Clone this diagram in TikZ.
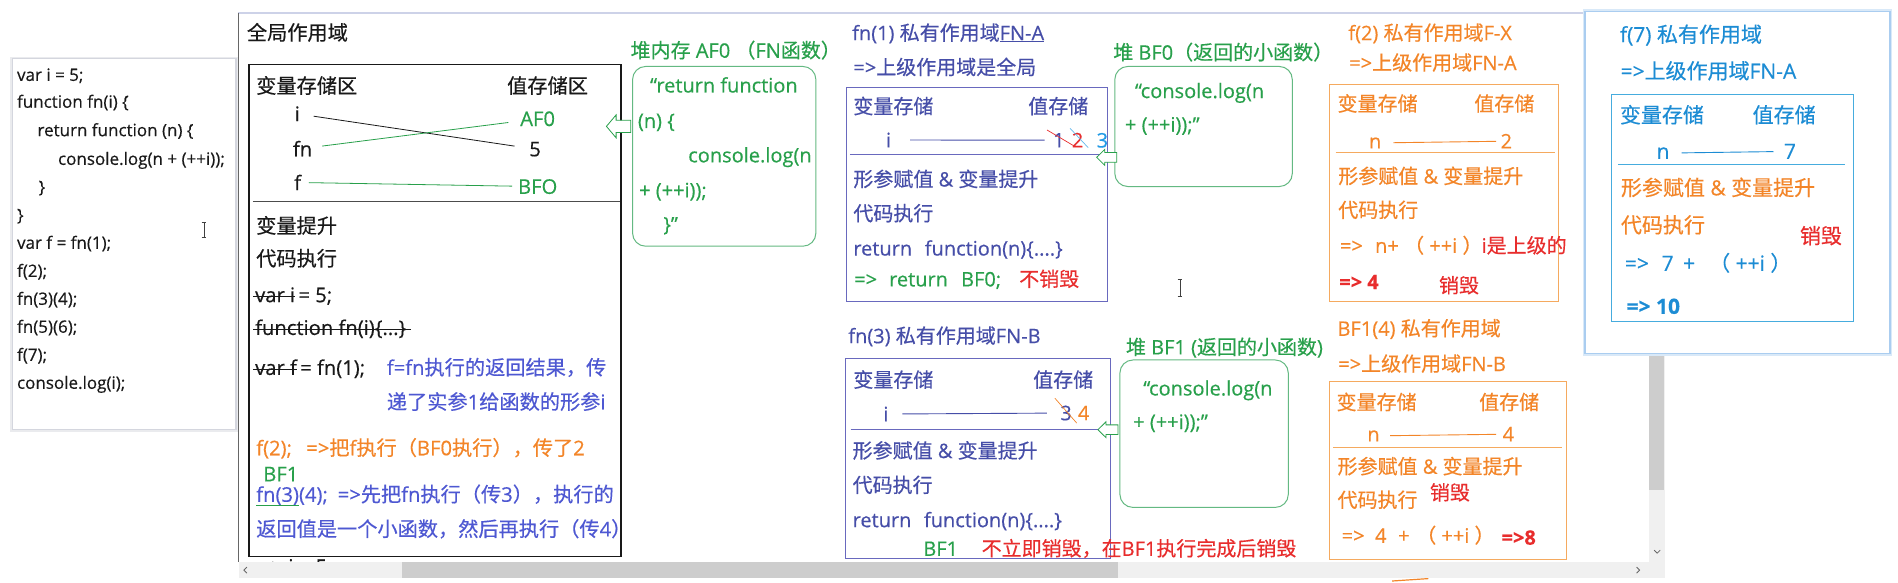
\documentclass[tikz,border=0pt]{standalone}
\usepackage{fontspec}
\setmainfont{Open Sans}[FakeBold=0.4]
\newfontfamily\cjkf{Noto Sans CJK SC}[FakeBold=0.4]
\XeTeXinterchartokenstate=1
\newXeTeXintercharclass\CJKcls
\makeatletter
\def\setcjkrange#1#2{\count@=#1\relax\loop\XeTeXcharclass\count@=\CJKcls\relax\ifnum\count@<#2\relax\advance\count@ by 1\relax\repeat}
\setcjkrange{"3000}{"303F}
\setcjkrange{"4E00}{"9FFF}
\setcjkrange{"FF00}{"FFEF}
\makeatother
\XeTeXinterchartoks 0 \CJKcls = {\begingroup\cjkf}
\XeTeXinterchartoks 4095 \CJKcls = {\begingroup\cjkf}
\XeTeXinterchartoks \CJKcls 0 = {\endgroup}
\XeTeXinterchartoks \CJKcls 4095 = {\endgroup}
\definecolor{scopeb}{RGB}{70,78,168}
\definecolor{scopebd}{RGB}{105,105,190}
\definecolor{annob}{RGB}{78,88,210}
\definecolor{grn}{RGB}{40,160,75}
\definecolor{grnb}{RGB}{100,185,130}
\definecolor{org}{RGB}{243,133,40}
\definecolor{orgb}{RGB}{245,170,95}
\definecolor{redc}{RGB}{232,45,45}
\definecolor{sky}{RGB}{28,140,212}
\definecolor{skyb}{RGB}{70,172,222}
\definecolor{lblue}{RGB}{35,155,230}
\definecolor{panelb}{RGB}{212,214,222}
\definecolor{topl}{RGB}{205,210,232}
\definecolor{sbtrack}{RGB}{240,240,240}
\definecolor{sbthumb}{RGB}{205,205,205}
\definecolor{popb}{RGB}{170,205,240}
\definecolor{txtk}{RGB}{25,25,25}
\newcommand\hollowarrow[5]{%
  \draw[harrow] (#1,#2) -- (#1+0.4*#3,#2-#4) -- (#1+0.4*#3,#2-#5) -- (#1+#3,#2-#5)
    -- (#1+#3,#2+#5) -- (#1+0.4*#3,#2+#5) -- (#1+0.4*#3,#2+#4) -- cycle;}
\newcommand\ibeam[3]{%
  \draw[black!75, line width=0.6pt] (#1,#2) -- (#1,#3) (#1-2,#2) -- (#1+2,#2) (#1-2,#3) -- (#1+2,#3);}
\begin{document}
\begin{tikzpicture}[x=1.2105pt,y=-1.2105pt,
  tx/.style={anchor=base west,inner sep=0pt,outer sep=0pt},
  f17/.style={font=\fontsize{17}{20}\selectfont},
  f19/.style={font=\fontsize{20.2}{22}\selectfont},
  f20/.style={font=\fontsize{20}{22}\selectfont},
  f21/.style={font=\fontsize{21}{24}\selectfont},
  t17/.style={tx,f17,yshift=-6.3pt},
  t19/.style={tx,f19,yshift=-7.4pt},
  t20/.style={tx,f20,yshift=-7.4pt},
  t21/.style={tx,f21,yshift=-7.8pt},
  harrow/.style={draw=grn, fill=white, line width=0.8pt, line join=miter},
  heapbox/.style={draw=grnb, line width=1pt, rounded corners=13pt},
  sbox/.style={draw=scopebd, line width=1pt},
  obox/.style={draw=orgb, line width=1pt},
  kbox/.style={draw=skyb, line width=1pt},
  strike/.style={line width=0.9pt, txtk}]
\useasboundingbox (0,0) rectangle (1568,481);
\fill[white] (0,0) rectangle (1568,481);

% ---------- code panel ----------
\draw[panelb!50, line width=4pt] (10,48.5) rectangle (195,355);
\draw[panelb, line width=1.2pt, fill=white] (10,48.5) rectangle (195,355);
\begin{scope}[txtk]
\node[t17] (c1) at (14.1,61.6) {var i = 5;};
\node[t17] (c2) at (14.1,83.8) {function fn(i) \{};
\node[t17] (c3) at (31,107.3) {return function (n) \{};
\node[t17] (c4) at (48,131) {console.log(n + (++i));};
\node[t17] (c5) at (32,154.1) {\}};
\node[t17] (c6) at (14.1,177.3) {\}};
\node[t17] (c7) at (14.1,200.3) {var f = fn(1);};
\node[t17] (c8) at (14.1,223.5) {f(2);};
\node[t17] (c9) at (14.1,246.6) {fn(3)(4);};
\node[t17] (c10) at (14.1,269.7) {fn(5)(6);};
\node[t17] (c11) at (14.1,292.9) {f(7);};
\node[t17] (c12) at (14.1,316) {console.log(i);};
\end{scope}
\ibeam{168.5}{184}{196}

% ---------- canvas ----------
\draw[topl, line width=2pt] (196.8,10.8) -- (1362,10.8);
\draw[black!60, line width=1pt] (196.8,10.8) -- (196.8,464);

% ---------- global scope ----------
\node[t19, txtk] (gtitle) at (204,27) {全局作用域};
\draw[txtk, line width=1.1pt] (205.7,53) rectangle (513,459.5);
\begin{scope}[txtk]
\node[t19] (gvar) at (211.7,70.9) {变量存储区};
\node[t19] (gval) at (419,70.9) {值存储区};
\node[t19] (gi) at (243.5,94) {i};
\node[t19] (gfn) at (242,123) {fn};
\node[t19] (gf) at (243,151) {f};
\node[t19] (g5) at (437.3,123) {5};
\end{scope}
\node[t19, grn] (gaf0) at (429.8,98) {AF0};
\node[t19, grn] (gbfo) at (428,154) {BFO};
\draw[txtk, line width=0.8pt, shorten <=14pt, shorten >=15pt] (gi) -- (g5);
\draw[grn, line width=0.8pt, shorten <=10pt, shorten >=12pt] (gfn) -- (gaf0);
\draw[grn, line width=0.8pt, shorten <=8pt, shorten >=6pt] (gf) -- (gbfo);
\draw[black!70, line width=1.2pt] (209,166.5) -- (512,166.5);
\begin{scope}[txtk]
\node[t19] (ghoist) at (211.7,186.5) {变量提升};
\node[t19] (gexec) at (211.7,213.6) {代码执行};
\node[t19] (gvi) at (210.8,243.5) {var i};
\node[tx,f19] (gvi2) at (gvi.base east) {\,= 5;};
\node[t19] (gfun) at (210.8,270.6) {function fn(i)\{...\}};
\node[t19] (gvf) at (210.8,303.6) {var f};
\node[tx,f19] (gvf2) at (gvf.base east) {\,= fn(1);};
\end{scope}
\draw[strike] ([xshift=-2pt,yshift=5.6pt]gvi.base west) -- ([yshift=5.6pt]gvi.base east);
\draw[strike] ([xshift=-2pt,yshift=5.6pt]gfun.base west) -- ([xshift=5pt,yshift=5.6pt]gfun.base east);
\draw[strike] ([xshift=-2pt,yshift=5.6pt]gvf.base west) -- ([yshift=5.6pt]gvf.base east);
\node[t19, annob] (gnote1) at (319.6,303.6) {f=fn执行的返回结果，传};
\node[t19, annob] (gnote2) at (319.6,332) {递了实参1给函数的形参i};
\node[t19, org] (gf2) at (211.7,370) {f(2);};
\node[t19, org] (gf2n) at (253,370) {=>把f执行（BF0执行），传了2};
\node[t19, grn] (gbf1) at (217.5,391.5) {BF1};
\node[t19, annob] (gfn3) at (211.7,408.4) {fn(3)};
\node[tx, f19, annob] (gfn34) at (gfn3.base east) {(4);};
\node[t19, annob] (gfn3n) at (279,408.4) {=>先把fn执行（传3），执行的};
\draw[grn, line width=0.9pt] ([yshift=-0.8pt]gfn3.south west) -- ([yshift=-0.8pt]gfn3.south east);
\node[t19, annob] (gfn3m) at (211.7,437) {返回值是一个小函数，然后再执行（传4）};
\node[t19, txtk] (gcut) at (214.8,468) {=> i = 5};

% heap AF0
\node[t20, grn] (haf0t) at (521,41.6) {堆内存 AF0 （FN函数）};
\draw[heapbox] (522.6,54.9) rectangle (674,203.4);
\begin{scope}[grn]
\node[t20] (ha1) at (537,70.3) {“return function};
\node[t20] (ha2) at (527,99.6) {(n) \{};
\node[t20] (ha3) at (568.6,128) {console.log(n};
\node[t20] (ha4) at (528,157) {+ (++i));};
\node[t20] (ha5) at (548,185) {\}”};
\end{scope}
\hollowarrow{501}{104.4}{20}{9.5}{5}

% ---------- fn(1) ----------
\begin{scope}[scopeb]
\node[t20] (at1) at (704,27.1) {fn(1) 私有作用域};
\node[tx,f20] (afna) at (at1.base east) {FN-A};
\node[t20] (at2) at (705,55.5) {=>上级作用域是全局};
\node[t20] (avar) at (705,87.8) {变量存储};
\node[t20] (aval) at (849.5,87.8) {值存储};
\node[t20] (ai) at (732,115.6) {i};
\node[t20] (a1) at (870,115.6) {1};
\node[t20] (ahoist) at (705,148) {形参赋值 \& 变量提升};
\node[t20] (aexec) at (705,176.3) {代码执行};
\node[t20] (aret) at (705,205) {return};
\node[t20] (afun) at (764,205) {function(n)\{....\}};
\end{scope}
\draw[scopeb, line width=0.8pt] ([yshift=-1pt]afna.south west) -- ([yshift=-1pt]afna.south east);
\draw[sbox] (699.4,72.4) rectangle (915,249);
\node[t20, redc] (a2) at (885.5,115.6) {2};
\node[t20, lblue] (a3) at (906,115.7) {3};
\draw[scopeb, line width=0.9pt, shorten <=19pt, shorten >=8.5pt] (ai) -- (a1);
\draw[redc, line width=0.7pt] (865,107.4) -- (888,121);
\draw[lblue!70, line width=0.7pt] (884,106) -- (899,122);
\draw[scopebd, line width=1pt] (702,128) -- (915,128);
\node[t20, grn] (ar1) at (705.7,230.5) {=>};
\node[t20, grn] (ar2) at (734.6,230.5) {return};
\node[t20, grn] (ar3) at (794,230.5) {BF0;};
\node[t20, redc] (ar4) at (842,230.5) {不销毁};

% ---------- fn(3) ----------
\begin{scope}[scopeb]
\node[t20] (bt1) at (700.8,277.4) {fn(3) 私有作用域FN-B};
\node[t20] (bvar) at (705,313.8) {变量存储};
\node[t20] (bval) at (853.6,313.8) {值存储};
\node[t20] (bi) at (729.8,342) {i};
\node[t20] (b3) at (876,341) {3};
\node[t20] (bhoist) at (704.4,372.3) {形参赋值 \& 变量提升};
\node[t20] (bexec) at (704.4,400.7) {代码执行};
\node[t20] (bret) at (704.4,429.4) {return};
\node[t20] (bfun) at (763.3,429.4) {function(n)\{....\}};
\end{scope}
\draw[sbox] (698.6,296.5) rectangle (917,461);
\node[t20, org] (b4) at (890.5,341) {4};
\draw[scopeb, line width=0.9pt, shorten <=14pt, shorten >=13.5pt] (bi) -- (b3);
\draw[org, line width=0.7pt] (871.5,329) -- (889.5,349.5);
\draw[scopebd, line width=1pt] (702.7,355) -- (917,355);
\node[t20, grn] (bbf1) at (762.8,453.1) {BF1};
\node[t20, redc] (bnote) at (811,453.1) {不立即销毁，在BF1执行完成后销毁};

% heap BF0
\node[t20, grn] (hb0t) at (919.7,43.2) {堆 BF0（返回的小函数）};
\draw[heapbox] (921,54.9) rectangle (1067.6,154.1);
\node[t20, grn] (hb01) at (937.6,74.9) {“console.log(n};
\node[t20, grn] (hb02) at (929.4,102.7) {+ (++i));”};
\hollowarrow{906}{130}{16.5}{6.5}{4}

% heap BF1
\node[t20, grn] (hb1t) at (930.2,286.7) {堆 BF1 (返回的小函数)};
\draw[heapbox] (925.2,297.4) rectangle (1064.3,419.2);
\node[t20, grn] (hb11) at (944.5,320.6) {“console.log(n};
\node[t20, grn] (hb12) at (936.2,348.3) {+ (++i));”};
\hollowarrow{907}{355}{16.6}{6.5}{4}

% ---------- f(2) ----------
\begin{scope}[org]
\node[t20] (xt1) at (1113.9,27.1) {f(2) 私有作用域F-X};
\node[t20] (xt2) at (1114.7,51.8) {=>上级作用域FN-A};
\node[t20] (xvar) at (1105,85.7) {变量存储};
\node[t20] (xval) at (1218,85.7) {值存储};
\node[t20] (xn) at (1131,116.5) {n};
\node[t20] (x2) at (1239.7,116.5) {2};
\node[t20] (xhoist) at (1105.6,145.5) {形参赋值 \& 变量提升};
\node[t20] (xexec) at (1105.6,173.5) {代码执行};
\node[t20] (xr1) at (1107,202.8) {=>};
\node[t20] (xr2) at (1136,202.8) {n+};
\node[t20] (xr3) at (1160,202.8) {（ ++i ）};
\end{scope}
\draw[obox] (1098.7,70) rectangle (1287.9,248.7);
\draw[org, line width=0.9pt, shorten <=12pt, shorten >=4.5pt] (xn) -- (x2);
\draw[orgb, line width=1pt] (1103.4,125.8) -- (1284.6,125.8);
\node[t20, redc] (xr4) at (1224,202.8) {i是上级的};
\node[t20, redc, font=\fontsize{20}{22}\selectfont\bfseries] (xres) at (1106.4,232.7) {=> 4};
\node[t20, redc] (xdel) at (1188.8,235.8) {销毁};

% ---------- BF1(4) ----------
\begin{scope}[org]
\node[t20] (yt1) at (1105,271.3) {BF1(4) 私有作用域};
\node[t20] (yt2) at (1105.6,300.5) {=>上级作用域FN-B};
\node[t20] (yvar) at (1104.2,332.3) {变量存储};
\node[t20] (yval) at (1222,332.3) {值存储};
\node[t20] (yn) at (1129.6,358.5) {n};
\node[t20] (y4) at (1241.4,358.5) {4};
\node[t20] (yhoist) at (1105,385.3) {形参赋值 \& 变量提升};
\node[t20] (yexec) at (1105,413) {代码执行};
\node[t20] (yr1) at (1108.4,442.3) {=>};
\node[t20] (yr2) at (1136,442.3) {4};
\node[t20] (yr3) at (1155,442.3) {+};
\node[t20] (yr4) at (1170,442.3) {（ ++i ）};
\end{scope}
\draw[obox] (1098.7,315.3) rectangle (1294.3,462.6);
\draw[org, line width=0.9pt, shorten <=10.5pt, shorten >=6.5pt] (yn) -- (y4);
\draw[orgb, line width=1pt] (1101.5,369.9) -- (1290.6,369.9);
\node[t20, redc] (ydel) at (1181.3,406.9) {销毁};
\node[t20, redc, font=\fontsize{20}{22}\selectfont\bfseries] (yres) at (1240.5,443.9) {=>8};

\ibeam{974.8}{231}{245}

% ---------- scroll bars ----------
\fill[sbtrack] (197.3,464) rectangle (1375.5,477.8);
\fill[sbthumb] (332,464.6) rectangle (923.6,477.2);
\fill[sbtrack] (1362,200) rectangle (1375.5,464);
\fill[sbthumb] (1362.6,200) rectangle (1375,404.8);
\draw[black!60, line width=0.8pt] (204,468.5) -- (201.5,471) -- (204,473.5);
\draw[black!60, line width=0.8pt] (1352,468.5) -- (1354.5,471) -- (1352,473.5);
\draw[black!60, line width=0.8pt] (1366.5,454.5) -- (1369,457) -- (1371.5,454.5);
\draw[org, line width=1.2pt] (1150,480) -- (1180,478);

% ---------- f(7) popup ----------
\draw[popb!45, line width=4pt] (1309.4,9.3) rectangle (1561.3,292.2);
\draw[popb, line width=1.2pt, fill=white] (1309.4,9.3) rectangle (1561.3,292.2);
\begin{scope}[sky]
\node[t21] (kt1) at (1338.3,28.4) {f(7) 私有作用域};
\node[t21] (kt2) at (1338.8,58.6) {=>上级作用域FN-A};
\node[t21] (kvar) at (1338.3,95) {变量存储};
\node[t21] (kval) at (1447.9,95) {值存储};
\node[t21] (kn) at (1368.6,124.8) {n};
\node[t21] (k7) at (1473.8,124.8) {7};
\node[t21] (kr1) at (1342.4,217.3) {=>};
\node[t21] (kr2) at (1372.7,217.3) {7};
\node[t21] (kr3) at (1390.5,217.3) {+};
\node[t21] (kr4) at (1412,217.3) {（ ++i ）};
\node[t21, font=\fontsize{21}{24}\selectfont\bfseries] (kres) at (1343.8,252.8) {=> 10};
\end{scope}
\draw[kbox] (1331.4,77.7) rectangle (1531,265.7);
\draw[sky, line width=0.9pt, shorten <=12pt, shorten >=10.5pt] (kn) -- (k7);
\draw[skyb, line width=1pt] (1337,135.6) -- (1524.2,135.6);
\node[t21, org] (khoist) at (1339.1,155) {形参赋值 \& 变量提升};
\node[t21, org] (kexec) at (1339.1,185.9) {代码执行};
\node[t21, redc] (kdel) at (1487,194.8) {销毁};
\end{tikzpicture}
\end{document}
